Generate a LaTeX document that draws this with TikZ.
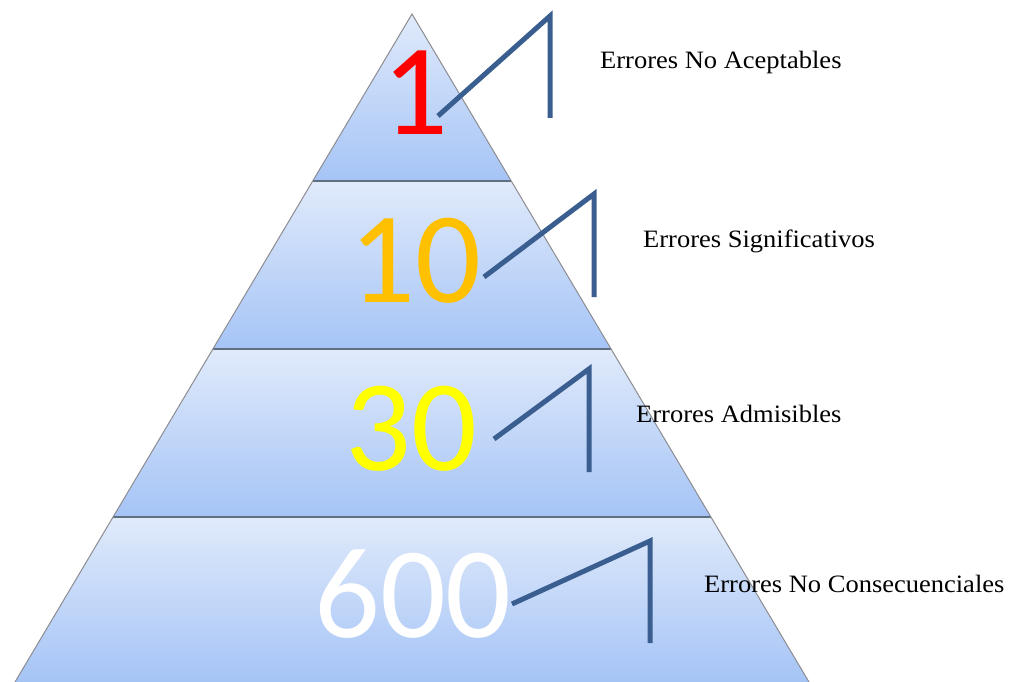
\documentclass[tikz,border=0pt]{standalone}
\usepackage{fontspec}
\usepackage{graphicx}
\setmainfont{Liberation Serif}
\newfontfamily\numfont{Carlito}
\begin{document}
\begin{tikzpicture}[x=1pt,y=-1pt,
  band/.style={top color=bandtop,bottom color=bandbot,draw=none},
  sep/.style={draw=sepgray,line width=1.8pt},
  edge/.style={draw=edgegray,line width=1pt},
  callout/.style={draw=callblue,line width=5pt},
  bignum/.style={font=\numfont\fontsize{130}{130}\selectfont,anchor=base,inner sep=0pt},
  lab/.style={font=\fontsize{25}{25}\selectfont,anchor=base west,inner sep=0pt,text=black}]
\definecolor{bandtop}{RGB}{224,234,251}
\definecolor{bandbot}{RGB}{165,196,246}
\definecolor{sepgray}{RGB}{96,110,130}
\definecolor{edgegray}{RGB}{140,140,145}
\definecolor{callblue}{RGB}{58,94,143}
\useasboundingbox (0,0) rectangle (1010,682);
% bands
\shade[band] (412,14) -- (511.2,181) -- (312.8,181) -- cycle;
\shade[band] (312.8,181) -- (511.2,181) -- (611,349) -- (213,349) -- cycle;
\shade[band] (213,349) -- (611,349) -- (710.8,517) -- (113.2,517) -- cycle;
\shade[band] (113.2,517) -- (710.8,517) -- (809,682) -- (15,682) -- cycle;
% separators
\draw[sep] (312.8,181) -- (511.2,181);
\draw[sep] (213,349) -- (611,349);
\draw[sep] (113.2,517) -- (710.8,517);
% edges
\draw[edge] (15,682) -- (412,14) -- (809,682);
% numbers
\node[bignum,text={rgb,255:red,255;green,0;blue,0}] (n1) at (415,135) {1};
\node[bignum,text={rgb,255:red,255;green,192;blue,0}] (n2) at (415,302) {10};
\node[bignum,text={rgb,255:red,255;green,255;blue,0}] (n3) at (411,470) {30};
\node[bignum,text=white] (n4) at (413,637) {600};
% callouts
\coordinate (a1) at (438,116); \coordinate (b1) at (550,16); \coordinate (c1) at (550,118);
\coordinate (a2) at (484,277); \coordinate (b2) at (594,194); \coordinate (c2) at (594,297);
\coordinate (a3) at (494,439); \coordinate (b3) at (589,369); \coordinate (c3) at (589,472);
\coordinate (a4) at (512,604); \coordinate (b4) at (650,541); \coordinate (c4) at (650,643);
\draw[callout] (a1) -- (b1) -- (c1);
\draw[callout] (a2) -- (b2) -- (c2);
\draw[callout] (a3) -- (b3) -- (c3);
\draw[callout] (a4) -- (b4) -- (c4);
% labels
\node[lab] (l1) at (600,69) {\scalebox{1.06}[1]{Errores No Aceptables}};
\node[lab] (l2) at (643,247.5) {\scalebox{1.06}[1]{Errores Significativos}};
\node[lab] (l3) at (636,422) {\scalebox{1.06}[1]{Errores Admisibles}};
\node[lab] (l4) at (704,592) {\scalebox{1.06}[1]{Errores No Consecuenciales}};
\end{tikzpicture}
\end{document}
